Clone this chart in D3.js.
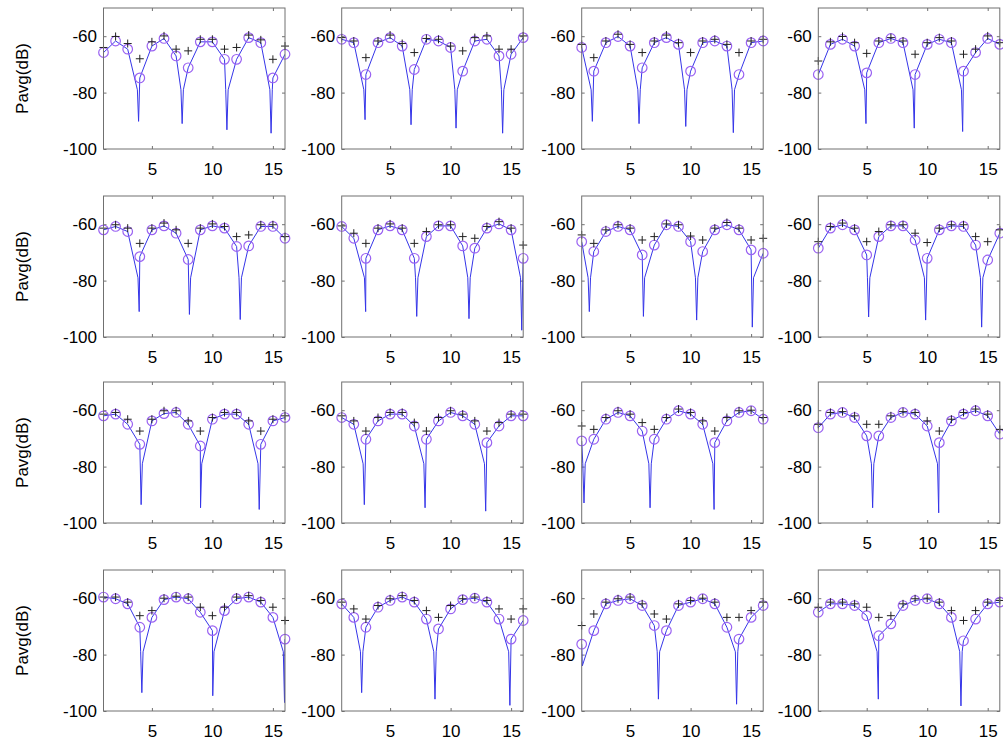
<!DOCTYPE html>
<html><head><meta charset="utf-8">
<script src="https://cdn.jsdelivr.net/npm/d3@7"></script>
<style>
body{margin:0;background:#fff}
svg{display:block}
text{font-family:"Liberation Sans",Arial,Helvetica,sans-serif;font-size:17px;fill:#000}
</style></head><body>
<svg id="chart" width="1003" height="740"></svg>
<script>
// ---- data ----
const subcarriers = [1,2,3,4,5,6,7,8,9,10,11,12,13,14,15,16];
const xTickValues = [5,10,15];
const yTickValues = [-100,-80,-60];
const yDomain = [-100,-50];
const yLabel = "Pavg(dB)";

// circle markers (o), one row per panel, left-to-right, top-to-bottom
const circleValues = [
 [-65.8,-61.7,-64.6,-74.8,-63.5,-60.8,-67.0,-71.2,-62.0,-62.0,-68.2,-68.2,-60.5,-62.3,-74.8,-66.4],
 [-61.1,-62.3,-73.6,-62.3,-60.5,-63.5,-71.8,-61.1,-61.7,-64.0,-72.4,-61.7,-61.1,-67.0,-66.4,-60.5],
 [-64.0,-72.4,-62.3,-60.1,-63.5,-71.2,-62.3,-60.5,-62.9,-72.4,-62.3,-61.7,-63.5,-73.6,-62.3,-61.7],
 [-73.6,-62.9,-61.1,-63.5,-73.0,-62.3,-60.8,-62.3,-73.6,-62.9,-61.1,-62.3,-72.4,-65.8,-60.8,-62.9],
 [-62.0,-60.8,-62.6,-71.5,-62.0,-60.6,-63.2,-72.5,-62.0,-60.6,-61.4,-67.9,-67.7,-60.8,-60.8,-65.0],
 [-60.8,-65.0,-72.1,-62.0,-60.6,-62.0,-72.1,-64.4,-60.6,-60.6,-67.7,-68.5,-61.4,-59.9,-62.0,-72.1],
 [-66.2,-69.7,-62.6,-60.8,-62.0,-70.9,-67.4,-60.2,-60.8,-66.2,-69.7,-62.0,-60.2,-62.0,-69.1,-70.3],
 [-68.5,-61.4,-60.2,-62.0,-70.9,-64.4,-60.6,-60.6,-65.6,-72.1,-62.0,-60.6,-60.8,-67.4,-72.7,-63.2],
 [-62.0,-61.4,-65.0,-72.1,-63.8,-61.2,-60.8,-65.0,-72.7,-63.2,-61.4,-61.4,-65.0,-72.1,-63.8,-62.6],
 [-62.6,-65.0,-70.3,-63.8,-61.4,-61.4,-65.6,-70.3,-63.8,-60.8,-62.0,-65.0,-71.5,-65.6,-62.0,-62.0],
 [-70.9,-70.3,-63.2,-60.8,-62.0,-67.4,-70.3,-63.2,-60.2,-61.4,-65.0,-71.5,-63.8,-60.8,-60.2,-63.2],
 [-66.2,-61.4,-60.8,-62.6,-69.1,-69.1,-62.6,-60.8,-61.4,-65.6,-71.5,-63.8,-61.4,-60.2,-62.0,-68.5],
 [-59.6,-60.2,-62.0,-70.3,-66.8,-60.5,-59.6,-60.2,-65.0,-71.5,-64.4,-60.2,-59.6,-61.4,-66.8,-74.5],
 [-62.0,-66.8,-70.3,-63.2,-60.8,-59.6,-61.4,-67.4,-70.9,-63.8,-60.5,-60.0,-61.4,-67.4,-74.5,-67.9],
 [-76.3,-71.5,-62.0,-60.8,-60.2,-62.6,-69.7,-71.5,-62.6,-61.4,-60.2,-62.0,-70.3,-74.5,-66.8,-62.6],
 [-65.0,-62.0,-62.0,-62.6,-66.2,-73.3,-69.1,-62.6,-60.8,-60.2,-62.0,-66.8,-75.1,-67.4,-62.0,-61.4]
];

// plus markers (+)
const plusValues = [
 [-64.0,-60.1,-62.6,-68.0,-62.0,-59.9,-64.6,-65.2,-61.1,-61.1,-64.6,-64.0,-59.6,-61.3,-68.2,-63.5],
 [-60.5,-61.7,-67.6,-61.7,-59.6,-62.6,-65.8,-60.8,-61.1,-63.5,-65.2,-60.5,-59.9,-64.6,-64.6,-59.9],
 [-62.9,-67.6,-61.7,-59.3,-62.9,-65.8,-61.7,-59.6,-62.3,-65.8,-61.7,-61.1,-62.9,-65.8,-61.7,-61.1],
 [-68.8,-62.0,-60.1,-62.3,-66.1,-61.7,-60.5,-61.7,-66.4,-62.3,-60.5,-61.7,-66.4,-64.6,-59.9,-62.3],
 [-61.4,-60.2,-61.4,-66.8,-61.4,-59.6,-62.0,-66.8,-61.4,-59.9,-60.8,-64.4,-63.8,-60.2,-60.2,-64.4],
 [-60.6,-63.2,-66.8,-61.4,-59.9,-61.4,-66.8,-62.6,-60.2,-60.2,-64.4,-65.0,-60.8,-59.1,-61.4,-67.4],
 [-63.8,-66.8,-62.0,-60.2,-61.4,-65.6,-64.4,-59.9,-60.2,-64.2,-65.6,-61.4,-59.4,-61.4,-65.6,-65.0],
 [-66.2,-60.8,-59.6,-61.4,-66.2,-62.6,-60.2,-60.2,-63.2,-66.5,-61.4,-60.2,-60.2,-64.4,-66.2,-62.0],
 [-61.4,-60.8,-63.2,-67.4,-63.2,-60.2,-60.2,-63.8,-67.4,-62.6,-60.8,-60.8,-63.8,-67.4,-63.2,-62.0],
 [-62.0,-63.8,-67.4,-62.6,-60.8,-60.8,-64.4,-67.4,-62.6,-60.2,-61.4,-63.8,-67.4,-64.4,-61.4,-61.4],
 [-65.6,-66.8,-62.6,-60.2,-61.4,-64.4,-66.8,-62.6,-59.6,-60.8,-63.8,-67.4,-62.6,-60.2,-60.0,-62.6],
 [-65.0,-60.8,-60.5,-62.0,-65.0,-65.0,-62.0,-60.5,-60.8,-63.8,-67.4,-63.2,-60.8,-59.6,-61.4,-66.8],
 [-59.6,-59.6,-61.4,-66.2,-64.4,-60.0,-59.3,-59.6,-63.2,-66.2,-63.2,-59.6,-59.1,-60.8,-63.2,-67.9],
 [-61.4,-63.8,-67.4,-62.6,-60.2,-59.1,-60.8,-64.4,-66.8,-62.6,-60.2,-59.6,-60.8,-63.8,-67.4,-63.8],
 [-69.7,-65.6,-61.4,-60.2,-59.6,-62.0,-65.6,-67.4,-62.0,-60.8,-60.0,-61.4,-66.8,-66.8,-64.4,-61.4],
 [-63.2,-61.4,-61.4,-62.0,-63.2,-66.8,-66.2,-62.0,-60.2,-60.0,-61.4,-64.4,-67.9,-64.4,-61.4,-60.8]
];

// deep nulls of the fine-resolution (blue) curve, with the narrow spike's shoulders: [position, dB]
const dipPoints = [
 [[3.8,-79],[3.9,-90.2],[7.4,-79],[7.5,-91.0],[7.6,-79],[11.1,-79],[11.2,-93.2],[11.3,-79],[14.75,-79],[14.85,-94.4],[14.95,-79]],
 [[2.83,-79],[2.93,-89.6],[6.63,-79],[6.73,-91.4],[6.83,-79],[10.35,-79],[10.45,-92.6],[10.55,-79],[14.2,-79],[14.3,-94.4],[14.4,-79]],
 [[1.78,-79],[1.88,-90.2],[5.64,-79],[5.74,-91.0],[5.84,-79],[9.5,-79],[9.6,-92.0],[9.7,-79],[13.43,-79],[13.53,-94.2],[13.63,-79]],
 [[4.84,-79],[4.94,-91.0],[8.83,-79],[8.93,-92.6],[12.83,-79],[12.93,-93.8]],
 [[3.85,-79],[3.95,-91.0],[8.1,-92.0],[8.2,-79],[12.2,-79],[12.3,-93.8],[12.4,-79]],
 [[2.88,-79],[2.98,-91.0],[7.1,-79],[7.2,-92.7],[7.3,-79],[11.42,-79],[11.52,-93.5],[11.62,-79],[15.78,-79],[15.88,-97.6]],
 [[1.53,-79],[1.63,-91.0],[1.73,-79],[6.1,-92.7],[6.2,-79],[10.4,-79],[10.5,-94.0],[10.6,-79],[15.1,-96.5],[15.2,-79]],
 [[5.06,-79],[5.16,-92.9],[5.26,-79],[9.77,-79],[9.87,-94.0],[14.4,-79],[14.5,-96.5],[14.6,-79]],
 [[4.11,-93.5],[4.21,-79],[9.02,-94.6],[9.12,-79],[13.77,-79],[13.87,-95.2]],
 [[2.77,-79],[2.87,-93.5],[7.79,-79],[7.89,-94.6],[12.8,-79],[12.9,-95.8]],
 [[1.09,-79],[1.19,-92.9],[1.29,-79],[6.55,-79],[6.65,-94.6],[6.75,-79],[11.84,-79],[11.94,-95.2]],
 [[5.39,-79],[5.49,-94.6],[5.59,-79],[10.85,-79],[10.95,-96.4]],
 [[4.07,-79],[4.17,-93.5],[4.27,-79],[10.03,-94.6],[10.13,-79],[15.86,-79],[15.96,-97.0]],
 [[2.55,-79],[2.65,-93.5],[2.75,-79],[8.61,-79],[8.71,-95.8],[8.81,-79],[14.8,-79],[14.9,-98.0]],
 [[1.05,-84.0],[7.24,-79],[7.34,-95.8],[7.44,-79],[13.7,-79],[13.8,-97.6],[13.9,-79]],
 [[5.86,-79],[5.96,-95.8],[12.69,-79],[12.79,-98.2],[12.89,-79]]
];

// ---- layout ----
const colLefts = [103.5, 341.7, 581.7, 818.3];
const rowTops = [8, 196, 382, 570];
const pw = 181.5, ph = 141;
const axisColor = "#707070";
const lineColor = "#3535e8";
const circleColor = "#9a62f2";

const svg = d3.select("#chart");
svg.append("rect").attr("width",1003).attr("height",740).attr("fill","#fff");

const x = d3.scaleLinear().domain([1,16]).range([0,pw]);
const y = d3.scaleLinear().domain(yDomain).range([ph,0]);
const line = d3.line().x(d=>x(d[0])).y(d=>y(d[1]));
const fmt = d => String(d);

circleValues.forEach((circ,p)=>{
  const r = Math.floor(p/4), c = p%4;
  const g = svg.append("g").attr("transform",`translate(${colLefts[c]},${rowTops[r]})`);
  const cid = "clip"+p;
  g.append("clipPath").attr("id",cid).append("rect").attr("width",pw).attr("height",ph);

  // axes
  const ab = g.append("g").attr("transform",`translate(0,${ph})`)
    .call(d3.axisBottom(x).tickValues(xTickValues).tickSize(-3).tickPadding(13.5).tickFormat(fmt));
  const at = g.append("g").call(d3.axisTop(x).tickValues(xTickValues).tickSize(-3).tickFormat(""));
  const al = g.append("g").call(d3.axisLeft(y).tickValues(yTickValues).tickSize(-3).tickPadding(6.5).tickFormat(fmt));
  const ar = g.append("g").attr("transform",`translate(${pw},0)`)
    .call(d3.axisRight(y).tickValues(yTickValues).tickSize(-3).tickFormat(""));
  [ab,at,al,ar].forEach(a=>{
    a.select(".domain").remove();
    a.selectAll(".tick line").attr("stroke",axisColor);
    a.selectAll("text").attr("fill","#000").style("font-size","17px")
      .attr("font-family",null);
  });

  const pts = subcarriers.map((s,i)=>[s,circ[i]]).concat(dipPoints[p]).sort((a,b)=>a[0]-b[0]);
  g.append("path").attr("d",line(pts)).attr("fill","none")
    .attr("stroke",lineColor).attr("stroke-width",1).attr("clip-path",`url(#${cid})`);

  g.selectAll("circle.o").data(subcarriers).join("circle").attr("class","o")
    .attr("cx",s=>x(s)).attr("cy",(s,i)=>y(circ[i])).attr("r",4.8)
    .attr("fill","none").attr("stroke",circleColor).attr("stroke-width",1.2);

  g.selectAll("path.plus").data(subcarriers).join("path").attr("class","plus")
    .attr("transform",(s,i)=>`translate(${x(s)},${y(plusValues[p][i])})`)
    .attr("d","M-4,0H4M0,-4V4").attr("stroke","#222").attr("stroke-width",1);

  g.append("rect").attr("width",pw).attr("height",ph).attr("fill","none")
    .attr("stroke",axisColor).attr("stroke-width",1);

  if(c===0){
    g.append("text").attr("transform",`translate(${22-colLefts[0]},${ph/2}) rotate(-90)`)
      .attr("text-anchor","middle").attr("dy","0.35em").text(yLabel);
  }
});
</script>
</body></html>
